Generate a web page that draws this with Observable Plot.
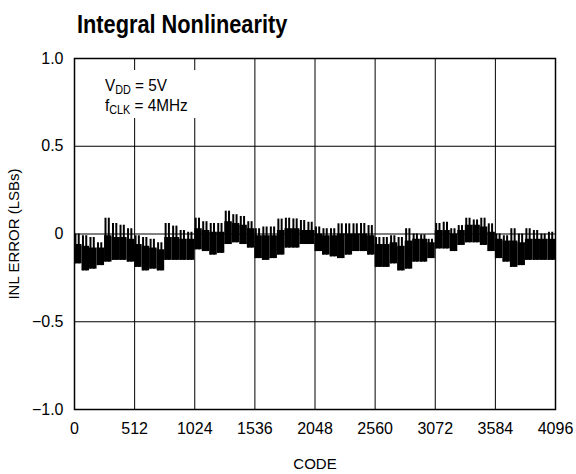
<!DOCTYPE html>
<html><head><meta charset="utf-8">
<script src="https://cdn.jsdelivr.net/npm/d3@7"></script>
<script src="https://cdn.jsdelivr.net/npm/@observablehq/plot@0.6"></script>
<style>
body{margin:0;background:#fff;}
#wrap{position:relative;width:576px;height:474px;font-family:'Liberation Sans',Arial,sans-serif;color:#000;}
#wrap svg{position:absolute;left:0;top:0;}
#title{position:absolute;left:77px;top:12px;font-size:25px;line-height:25px;font-weight:bold;white-space:nowrap;z-index:2;transform:scaleX(0.87);transform-origin:0 0;}
#note{position:absolute;left:100px;top:70px;width:100px;height:48px;padding:6px 0 0 5px;box-sizing:border-box;background:#fff;font-size:17px;line-height:20px;white-space:nowrap;z-index:2;}
#note span.t{display:inline-block;transform:scaleX(0.9);transform-origin:0 0;}
#note sub{font-size:12px;vertical-align:-3px;line-height:0;}
</style></head><body>
<div id="wrap"><div id="title">Integral Nonlinearity</div><div id="note"><span class="t">V<sub>DD</sub> = 5V</span><br><span class="t">f<sub>CLK</sub> = 4MHz</span></div></div>
<script>
// x ticks (codes) and y ticks (LSBs)
const xTicks = [0, 512, 1024, 1536, 2048, 2560, 3072, 3584, 4096];
const yTicks = [-1, -0.5, 0, 0.5, 1];
// start code of each 64-code segment
const segCodes = d3.range(0, 4096, 64);
// per segment: spike peak, top of the dense band, bottom of the band (LSB)
const segHi = [0.0,-0.01,-0.02,-0.05,0.09,0.06,0.05,0.03,-0.01,-0.02,-0.03,-0.05,0.06,0.045,0.02,0.01,
  0.09,0.07,0.06,0.06,0.13,0.11,0.10,0.07,0.03,0.04,0.04,0.085,0.09,0.086,0.077,0.067,
  0.04,0.03,0.03,0.058,0.058,0.058,0.06,0.048,-0.02,-0.02,-0.01,-0.02,0.03,0.0,-0.005,-0.03,
  0.06,0.067,0.03,0.048,0.09,0.08,0.09,0.058,0.0,-0.01,0.03,0.0,0.03,0.02,0.0,0.01];
const segTop = [-0.06,-0.07,-0.08,-0.08,-0.01,-0.02,-0.02,-0.03,-0.06,-0.07,-0.08,-0.09,-0.02,-0.02,-0.03,-0.03,
  0.03,0.02,0.01,0.01,0.07,0.06,0.05,0.03,-0.01,-0.01,-0.01,0.02,0.03,0.03,0.02,0.02,
  0.0,-0.01,-0.01,0.0,0.0,0.0,0.0,-0.01,-0.06,-0.06,-0.05,-0.07,-0.04,-0.03,-0.03,-0.05,
  0.02,0.02,0.0,0.02,0.05,0.05,0.04,0.01,-0.03,-0.04,-0.04,-0.05,-0.03,-0.03,-0.03,-0.03];
const segLo = [-0.17,-0.21,-0.20,-0.18,-0.16,-0.15,-0.15,-0.16,-0.19,-0.21,-0.20,-0.21,-0.15,-0.15,-0.15,-0.15,
  -0.09,-0.10,-0.12,-0.11,-0.06,-0.05,-0.06,-0.08,-0.14,-0.15,-0.14,-0.12,-0.08,-0.08,-0.06,-0.06,
  -0.10,-0.12,-0.13,-0.14,-0.12,-0.10,-0.10,-0.12,-0.19,-0.19,-0.17,-0.21,-0.20,-0.16,-0.16,-0.14,
  -0.085,-0.085,-0.10,-0.065,-0.05,-0.05,-0.065,-0.10,-0.14,-0.16,-0.19,-0.18,-0.15,-0.15,-0.15,-0.15];

const segs = segCodes.map((c, i) => ({code: c, end: c + 64, s1: c + 8, s2: c + 36, s3: c + 56, hi: segHi[i], top: segTop[i], lo: segLo[i]}));
const fmt = d => d === 0 ? "0" : d.toFixed(1).replace("-", "\u2212");
const FONT = "'Liberation Sans',Arial,sans-serif";

const chart = Plot.plot({
  width: 576, height: 474,
  marginLeft: 74, marginRight: 21, marginTop: 58, marginBottom: 65,
  style: {fontFamily: FONT, fontSize: "16px", color: "#000", background: "transparent"},
  x: {domain: [0, 4096], ticks: xTicks},
  y: {domain: [-1, 1], ticks: yTicks},
  marks: [
    Plot.ruleX(xTicks.slice(1, -1), {stroke: "#000", strokeWidth: 1}),
    Plot.ruleY(yTicks.slice(1, -1), {stroke: "#000", strokeWidth: 1}),
    Plot.rect(segs, {x1: "code", x2: "end", y1: "lo", y2: "top", fill: "#000"}),
    Plot.ruleX(segs, {x: "s1", y1: "lo", y2: "hi", stroke: "#000", strokeWidth: 2}),
    Plot.ruleX(segs, {x: "s2", y1: "lo", y2: "hi", stroke: "#000", strokeWidth: 2}),
    Plot.frame({stroke: "#000", strokeWidth: 1.5}),
    Plot.axisX({ticks: xTicks, tickSize: 0, tickPadding: 13, tickFormat: d => String(d), label: null}),
    Plot.axisY({ticks: yTicks, tickSize: 0, tickPadding: 11, tickFormat: fmt, label: null}),
    Plot.text(["CODE"], {frameAnchor: "bottom", dy: 55, text: d => d, textAnchor: "middle", lineAnchor: "middle", fontSize: 15}),
    Plot.text(["INL ERROR (LSBs)"], {frameAnchor: "left", dx: -60, rotate: -90, text: d => d, textAnchor: "middle", lineAnchor: "middle", fontSize: 15})
  ]
});
document.getElementById("wrap").prepend(chart);
</script>
</body></html>
